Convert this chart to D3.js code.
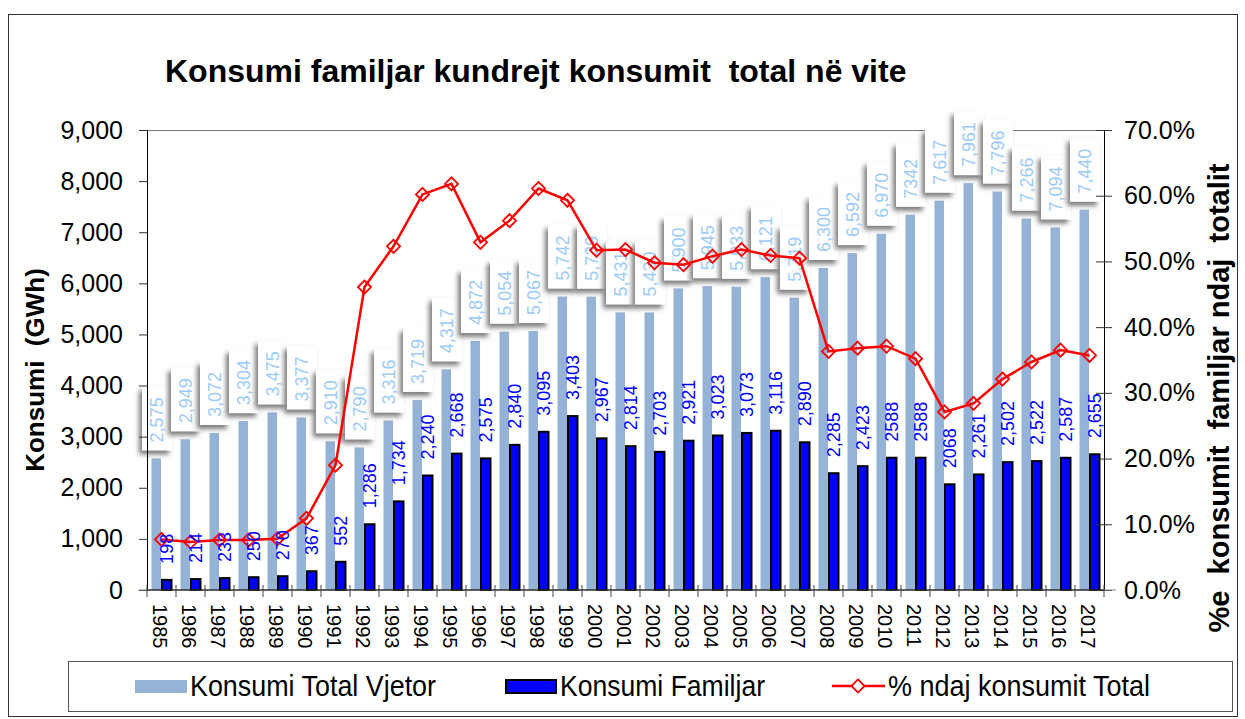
<!DOCTYPE html>
<html>
<head>
<meta charset="utf-8">
<script src="https://cdn.jsdelivr.net/npm/d3@7"></script>
<style>
  body { margin: 0; background: #fff; }
  svg text { font-family: "Liberation Sans", Arial, sans-serif; }
</style>
</head>
<body>
<div id="chart"></div>
<script>
/*------ data ------*/
var years = ["1985","1986","1987","1988","1989","1990","1991","1992","1993","1994","1995",
  "1996","1997","1998","1999","2000","2001","2002","2003","2004","2005","2006","2007",
  "2008","2009","2010","2011","2012","2013","2014","2015","2016","2017"];

var totalValues = [2575,2949,3072,3304,3475,3377,2910,2790,3316,3719,4317,4872,5054,5067,5742,
  5739,5431,5430,5900,5945,5933,6121,5719,6300,6592,6970,7342,7617,7961,7796,7266,7094,7440];

var familyValues = [198,214,233,250,270,367,552,1286,1734,2240,2668,2575,2840,3095,3403,
  2967,2814,2703,2921,3023,3073,3116,2890,2285,2423,2588,2588,2068,2261,2502,2522,2587,2655];

var pctValues = [7.7,7.3,7.6,7.6,7.8,10.9,19.0,46.1,52.3,60.2,61.8,52.9,56.2,61.1,59.3,
  51.7,51.8,49.8,49.5,50.8,51.8,50.9,50.5,36.3,36.8,37.1,35.2,27.1,28.4,32.1,34.7,36.5,35.7];

// a few labels are printed without the thousands separator
var totalLabels = ["2,575","2,949","3,072","3,304","3,475","3,377","2,910","2,790","3,316","3,719",
  "4,317","4,872","5,054","5,067","5,742","5,739","5,431","5,430","5,900","5,945","5,933","6,121",
  "5,719","6,300","6,592","6,970","7342","7,617","7,961","7,796","7,266","7,094","7,440"];
var familyLabels = ["198","214","233","250","270","367","552","1,286","1,734","2,240","2,668",
  "2,575","2,840","3,095","3,403","2,967","2,814","2,703","2,921","3,023","3,073","3,116","2,890",
  "2,285","2,423","2588","2588","2068","2,261","2,502","2,522","2,587","2,655"];

var leftTicks = [0,1000,2000,3000,4000,5000,6000,7000,8000,9000];
var rightTicks = [0,10,20,30,40,50,60,70];

var legendItems = ["Konsumi Total Vjetor", "Konsumi Familjar", "% ndaj konsumit Total"];

var rows = years.map(function(y, i) {
  return { year: y, total: totalValues[i], family: familyValues[i], pct: pctValues[i],
           tLabel: totalLabels[i], fLabel: familyLabels[i] };
});

/*------ svg ------*/
var width = 1245, height = 719;
var svg = d3.select("#chart").append("svg")
    .attr("width", width)
    .attr("height", height);

var defs = svg.append("defs");
defs.append("filter")
    .attr("id", "shadow")
    .attr("x", "-60%").attr("y", "-20%")
    .attr("width", "220%").attr("height", "150%")
  .append("feDropShadow")
    .attr("dx", -3).attr("dy", 4)
    .attr("stdDeviation", 2.5)
    .attr("flood-color", "#5a5a5a")
    .attr("flood-opacity", 0.8);

// outer frame
svg.append("rect")
    .attr("x", 8.5).attr("y", 14.5)
    .attr("width", 1229).attr("height", 702)
    .attr("fill", "none").attr("stroke", "#333").attr("stroke-width", 1);

var plot = { left: 147, right: 1104, top: 130, bottom: 590 };

var x = d3.scaleBand().domain(years).range([plot.left, plot.right]);
var yL = d3.scaleLinear().domain([0, 9000]).range([plot.bottom, plot.top]);
var yR = d3.scaleLinear().domain([0, 70]).range([plot.bottom, plot.top]);

var bw = x.bandwidth();
var barW = 9.5;
function cx(d) { return x(d.year) + bw / 2; }

/*------ title ------*/
svg.append("text")
    .attr("x", 165).attr("y", 82)
    .style("white-space", "pre")
    .style("font-size", "32px")
    .style("font-weight", "bold")
    .text("Konsumi familjar kundrejt konsumit  total në vite");

// plot top border
svg.append("line")
    .attr("x1", plot.left).attr("x2", plot.right)
    .attr("y1", plot.top + 0.5).attr("y2", plot.top + 0.5)
    .attr("stroke", "#777");

/*------ total bars ------*/
svg.append("g").selectAll("rect")
    .data(rows).enter().append("rect")
    .attr("x", function(d) { return cx(d) - barW - 0.5; })
    .attr("y", function(d) { return yL(d.total); })
    .attr("width", barW)
    .attr("height", function(d) { return plot.bottom - yL(d.total); })
    .attr("fill", "#95b3d7");

/*------ total labels in shadowed boxes ------*/
var boxes = svg.append("g").selectAll("g")
    .data(rows).enter().append("g");

boxes.append("rect")
    .attr("x", function(d) { return cx(d) - 4.5 - 15; })
    .attr("y", function(d) { return yL(d.total) - 72; })
    .attr("width", 30)
    .attr("height", 64)
    .attr("fill", "#fff")
    .attr("filter", "url(#shadow)");

boxes.append("text")
    .attr("transform", function(d) {
      return "translate(" + (cx(d) - 4.5) + "," + (yL(d.total) - 16) + ") rotate(-90)";
    })
    .attr("dy", "0.35em")
    .style("font-size", "18px")
    .attr("fill", "#9ccbfa")
    .text(function(d) { return d.tLabel; });

/*------ family bars ------*/
svg.append("g").selectAll("rect")
    .data(rows).enter().append("rect")
    .attr("x", function(d) { return cx(d) + 0.5; })
    .attr("y", function(d) { return yL(d.family); })
    .attr("width", barW)
    .attr("height", function(d) { return plot.bottom - yL(d.family); })
    .attr("fill", "#0000ff")
    .attr("stroke", "#000")
    .attr("stroke-width", 2);

/*------ percentage line ------*/
var line = d3.line()
    .x(function(d) { return cx(d); })
    .y(function(d) { return yR(d.pct); });

svg.append("path")
    .datum(rows)
    .attr("d", line)
    .attr("fill", "none")
    .attr("stroke", "#ff0000")
    .attr("stroke-width", 2.5);

var diamond = d3.symbol().type(d3.symbolDiamond2).size(110);
svg.append("g").selectAll("path")
    .data(rows).enter().append("path")
    .attr("d", diamond)
    .attr("transform", function(d) { return "translate(" + cx(d) + "," + yR(d.pct) + ")"; })
    .attr("fill", "none")
    .attr("stroke", "#ff0000")
    .attr("stroke-width", 1.8);

/*------ family labels ------*/
svg.append("g").selectAll("text")
    .data(rows).enter().append("text")
    .attr("transform", function(d) {
      return "translate(" + (cx(d) + 5) + "," + (yL(d.family) - 16) + ") rotate(-90)";
    })
    .attr("dy", "0.35em")
    .style("font-size", "18px")
    .attr("fill", "#0000ff")
    .text(function(d) { return d.fLabel; });

/*------ axes ------*/
var leftAxis = svg.append("g")
    .attr("transform", "translate(" + plot.left + ",0)")
    .call(d3.axisLeft(yL).tickValues(leftTicks).tickFormat(d3.format(",")).tickSize(8).tickPadding(16));
leftAxis.select(".domain").attr("stroke", "#000");
leftAxis.selectAll("line").attr("stroke", "#333");
leftAxis.selectAll("text").style("font-size", "25px").attr("fill", "#000");

var rightAxis = svg.append("g")
    .attr("transform", "translate(" + plot.right + ",0)")
    .call(d3.axisRight(yR).tickValues(rightTicks)
      .tickFormat(function(d) { return d.toFixed(1) + "%"; }).tickSize(8).tickPadding(12));
rightAxis.select(".domain").attr("stroke", "#000");
rightAxis.selectAll(".tick line").attr("x1", -8).attr("stroke", "#333");
rightAxis.selectAll("text").style("font-size", "25px").attr("fill", "#000");

// x axis
svg.append("line")
    .attr("x1", plot.left - 9).attr("x2", plot.right + 12)
    .attr("y1", plot.bottom).attr("y2", plot.bottom)
    .attr("stroke", "#888").attr("stroke-width", 1.2);
svg.append("line")
    .attr("x1", plot.left).attr("x2", plot.right)
    .attr("y1", plot.bottom).attr("y2", plot.bottom)
    .attr("stroke", "#000");

svg.append("g").selectAll("line")
    .data(years.concat(["end"])).enter().append("line")
    .attr("x1", function(d) { return d === "end" ? plot.right : x(d); })
    .attr("x2", function(d) { return d === "end" ? plot.right : x(d); })
    .attr("y1", plot.bottom - 5).attr("y2", plot.bottom + 7)
    .attr("stroke", "#444");

svg.append("g").selectAll("text")
    .data(rows).enter().append("text")
    .attr("transform", function(d) { return "translate(" + (cx(d) - 2) + "," + 604 + ") rotate(90)"; })
    .attr("dy", "0.35em")
    .style("font-size", "20px")
    .text(function(d) { return d.year; });

// axis titles
svg.append("text")
    .attr("transform", "translate(44,370) rotate(-90)")
    .attr("text-anchor", "middle")
    .style("white-space", "pre")
    .style("font-size", "26px")
    .style("font-weight", "bold")
    .text("Konsumi  (GWh)");

svg.append("text")
    .attr("transform", "translate(1229,398) rotate(-90)")
    .attr("text-anchor", "middle")
    .style("white-space", "pre")
    .style("font-size", "29px")
    .style("font-weight", "bold")
    .text("%e  konsumit  familjar ndaj  totalit");

/*------ legend ------*/
svg.append("rect")
    .attr("x", 68.5).attr("y", 661.5)
    .attr("width", 1164).attr("height", 50)
    .attr("fill", "#fff").attr("stroke", "#555");

var lg = svg.append("g");
lg.append("rect").attr("x", 135).attr("y", 680).attr("width", 52).attr("height", 13).attr("fill", "#95b3d7");
lg.append("rect").attr("x", 506).attr("y", 680).attr("width", 50).attr("height", 13)
    .attr("fill", "#0000ff").attr("stroke", "#000").attr("stroke-width", 2);
lg.append("line").attr("x1", 832).attr("x2", 885).attr("y1", 686).attr("y2", 686)
    .attr("stroke", "#ff0000").attr("stroke-width", 2.5);
lg.append("path").attr("d", diamond).attr("transform", "translate(858,686)")
    .attr("fill", "#fff").attr("stroke", "#ff0000").attr("stroke-width", 1.8);

var legendX = [190, 560, 888];
var legendW = [246, 205, 262];
lg.selectAll("text.leg")
    .data(legendItems).enter().append("text")
    .attr("class", "leg")
    .attr("x", function(d, i) { return legendX[i]; })
    .attr("y", 686)
    .attr("dy", "0.36em")
    .attr("textLength", function(d, i) { return legendW[i]; })
    .attr("lengthAdjust", "spacingAndGlyphs")
    .style("font-family", "'Liberation Sans Narrow', 'Liberation Sans', Arial, sans-serif")
    .style("font-size", "29px")
    .text(function(d) { return d; });
</script>
</body>
</html>
